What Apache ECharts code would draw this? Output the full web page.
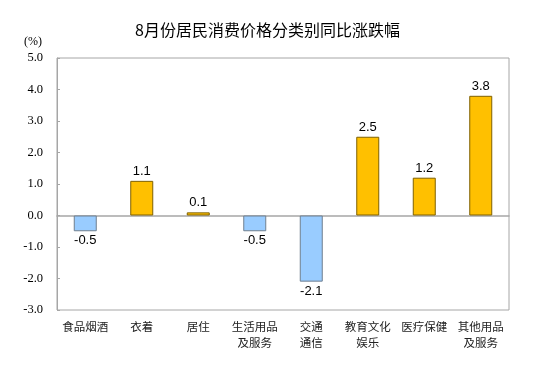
<!DOCTYPE html>
<html>
<head>
<meta charset="utf-8">
<script src="https://cdn.jsdelivr.net/npm/echarts@6/dist/echarts.min.js"></script>
<style>html,body{margin:0;padding:0;background:#fff;}#c{width:559px;height:386px;}</style>
</head>
<body>
<div id="c"></div>
<script>
var categories = ['食品烟酒', '衣着', '居住', '生活用品\n及服务', '交通\n通信', '教育文化\n娱乐', '医疗保健', '其他用品\n及服务'];
var values = [-0.5, 1.1, 0.1, -0.5, -2.1, 2.5, 1.2, 3.8];
var yTicks = { min: -3, max: 5, interval: 1 };
var titleText = '8月份居民消费价格分类别同比涨跌幅';
var unitText = '(%)';

var chart = echarts.init(document.getElementById('c'), null, { renderer: 'canvas' });
var posColor = '#FFC000', posBorder = '#7f6000';
var negColor = '#99CCFF', negBorder = '#6f7f8f';

chart.setOption({
  animation: false,
  backgroundColor: '#fff',
  title: {
    text: titleText,
    left: 130,
    top: 17,
    textStyle: { fontFamily: '"Noto Sans CJK SC", sans-serif', fontSize: 16, fontWeight: 'normal', color: '#000' }
  },
  graphic: [{
    type: 'text',
    left: 24,
    top: 36,
    style: { text: unitText, font: '12px "Liberation Serif", "Times New Roman", serif', fill: '#000' }
  }],
  grid: { left: 57, right: 50, top: 58, bottom: 76, show: true, borderColor: '#a6a6a6', borderWidth: 1, containLabel: false },
  xAxis: {
    type: 'category',
    data: categories,
    axisLine: { onZero: true, lineStyle: { color: '#a6a6a6', width: 1.5 } },
    axisTick: { show: false },
    axisLabel: {
      interval: 0,
      fontFamily: '"Noto Sans CJK SC", sans-serif',
      fontSize: 11.5,
      color: '#222',
      lineHeight: 16,
      margin: 9
    }
  },
  yAxis: {
    type: 'value',
    min: yTicks.min,
    max: yTicks.max,
    interval: yTicks.interval,
    splitLine: { show: false },
    axisLine: { show: true, lineStyle: { color: '#a6a6a6' } },
    axisTick: { show: true, inside: true, length: 3, lineStyle: { color: '#a6a6a6' } },
    axisLabel: {
      fontFamily: '"Liberation Serif", "Times New Roman", serif',
      fontSize: 12.5,
      color: '#000',
      margin: 14,
      formatter: function (v) { return v.toFixed(1); }
    }
  },
  series: [{
    type: 'bar',
    barWidth: 23,
    data: values.map(function (v) {
      return {
        value: v,
        itemStyle: { color: v >= 0 ? posColor : negColor, borderColor: v >= 0 ? posBorder : negBorder, borderWidth: 1 },
        label: { position: v >= 0 ? 'top' : 'bottom' }
      };
    }),
    label: {
      show: true,
      distance: 3,
      fontFamily: '"Liberation Sans", Arial, sans-serif',
      fontSize: 13,
      color: '#000',
      formatter: function (p) { return p.value.toFixed(1); }
    }
  }]
});
</script>
</body>
</html>
